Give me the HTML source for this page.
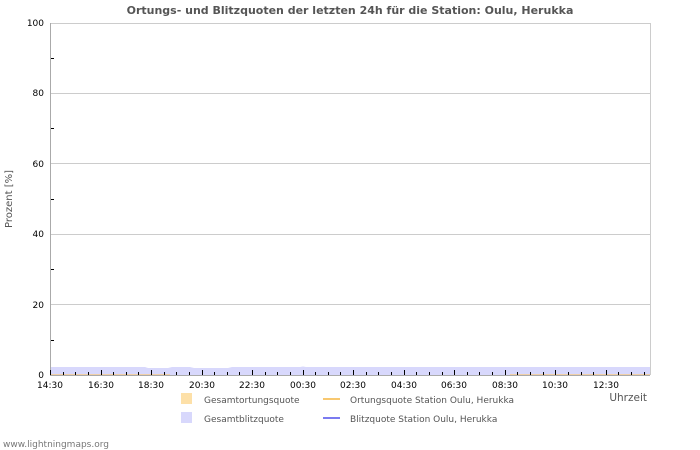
<!DOCTYPE html>
<html><head><meta charset="utf-8"><style>
body{margin:0;background:#fff;}
svg{display:block;font-family:"DejaVu Sans","Liberation Sans",sans-serif;}
</style></head><body>
<svg width="700" height="450" viewBox="0 0 700 450">
<rect width="700" height="450" fill="#fff"/>
<text x="350" y="14" text-anchor="middle" font-size="11" font-weight="bold" fill="#555">Ortungs- und Blitzquoten der letzten 24h für die Station: Oulu, Herukka</text>
<g stroke="#ccc" stroke-width="1">
<line x1="50" y1="93.5" x2="650" y2="93.5"/>
<line x1="50" y1="163.5" x2="650" y2="163.5"/>
<line x1="50" y1="234.5" x2="650" y2="234.5"/>
<line x1="50" y1="304.5" x2="650" y2="304.5"/>
<line x1="650.5" y1="23" x2="650.5" y2="375"/>
<line x1="50" y1="23.5" x2="650" y2="23.5"/>
</g>
<path d="M50,367 L145,367 L148,368 L168,368 L172,367 L190,367 L194,368 L228,368 L232,367 L300,367 L303,366.5 L306,367 L650,367 L650,375 L50,375 Z" fill="#d8d8fc"/>
<line x1="50" y1="374.5" x2="170" y2="374.5" stroke="#f0cfa8" stroke-width="1"/>
<line x1="510" y1="374.5" x2="650" y2="374.5" stroke="#f0cfa8" stroke-width="1"/>
<line x1="50.5" y1="23" x2="50.5" y2="375" stroke="#aaa"/>
<line x1="50" y1="375.5" x2="650" y2="375.5" stroke="#aaa"/>
<path stroke="#000" stroke-width="1" fill="none" d="
M50.5,370V375 M63.5,372V375 M75.5,372V375 M88.5,372V375
M101.5,370V375 M113.5,372V375 M126.5,372V375 M138.5,372V375
M151.5,370V375 M164.5,372V375 M176.5,372V375 M189.5,372V375
M202.5,370V375 M214.5,372V375 M227.5,372V375 M239.5,372V375
M252.5,370V375 M265.5,372V375 M277.5,372V375 M290.5,372V375
M303.5,370V375 M315.5,372V375 M328.5,372V375 M340.5,372V375
M353.5,370V375 M366.5,372V375 M378.5,372V375 M391.5,372V375
M404.5,370V375 M416.5,372V375 M429.5,372V375 M442.5,372V375
M454.5,370V375 M467.5,372V375 M479.5,372V375 M492.5,372V375
M505.5,370V375 M517.5,372V375 M530.5,372V375 M543.5,372V375
M555.5,370V375 M568.5,372V375 M581.5,372V375 M593.5,372V375
M606.5,370V375 M618.5,372V375 M631.5,372V375 M644.5,372V375"/>
<g font-size="9" fill="#000" text-anchor="end">
<text x="44" y="26">100</text><text x="44" y="96">80</text><text x="44" y="167">60</text><text x="44" y="237">40</text><text x="44" y="308">20</text><text x="44" y="378">0</text>
</g>
<g stroke="#000">
<line x1="51" y1="58.5" x2="54" y2="58.5"/><line x1="51" y1="128.5" x2="54" y2="128.5"/><line x1="51" y1="199.5" x2="54" y2="199.5"/><line x1="51" y1="269.5" x2="54" y2="269.5"/><line x1="51" y1="340.5" x2="54" y2="340.5"/>
</g>
<text x="12" y="199" font-size="10" fill="#555" text-anchor="middle" transform="rotate(-90 12 199)">Prozent   [%]</text>
<g font-size="9" fill="#000" text-anchor="middle">
<text x="50" y="388">14:30</text><text x="101" y="388">16:30</text><text x="151" y="388">18:30</text><text x="202" y="388">20:30</text><text x="252" y="388">22:30</text><text x="303" y="388">00:30</text><text x="353" y="388">02:30</text><text x="404" y="388">04:30</text><text x="454" y="388">06:30</text><text x="505" y="388">08:30</text><text x="555" y="388">10:30</text><text x="606" y="388">12:30</text>
</g>
<text x="647" y="401" font-size="10.5" fill="#555" text-anchor="end">Uhrzeit</text>
<rect x="181" y="393" width="11" height="11" fill="#fde0a8"/>
<text x="204" y="403" font-size="9" fill="#555">Gesamtortungsquote</text>
<line x1="323" y1="399" x2="340" y2="399" stroke="#f8c870" stroke-width="2"/>
<text x="350" y="403" font-size="9" fill="#555">Ortungsquote Station Oulu, Herukka</text>
<rect x="181" y="412" width="11" height="11" fill="#d8d8fc"/>
<text x="204" y="422" font-size="9" fill="#555">Gesamtblitzquote</text>
<line x1="323" y1="418" x2="340" y2="418" stroke="#7b7bf0" stroke-width="2"/>
<text x="350" y="422" font-size="9" fill="#555">Blitzquote Station Oulu, Herukka</text>
<text x="3" y="447" font-size="9" fill="#777">www.lightningmaps.org</text>
</svg>
</body></html>
